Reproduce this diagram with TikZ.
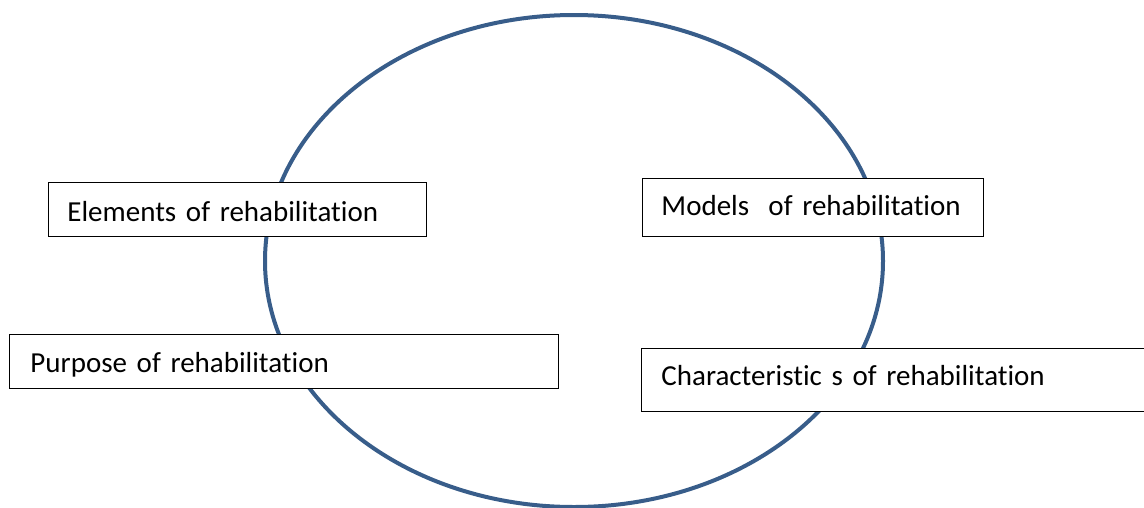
\documentclass[tikz,border=0pt]{standalone}
\usepackage{fontspec}
\setmainfont[Ligatures={NoCommon}]{Carlito}
\definecolor{ringblue}{RGB}{56,93,138}
\begin{document}
\begin{tikzpicture}[x=1pt,y=-1pt,
  ring/.style={draw=ringblue, line width=4pt},
  topicbox/.style={draw=black, line width=0.9pt, fill=white, anchor=north west,
    align=left, inner ysep=0pt, font=\fontsize{29}{34}\selectfont,
    text depth=0pt}]
  \useasboundingbox (0,0) rectangle (1144,507);
  \clip (0,0) rectangle (1144,507);
  % central ring
  \draw[ring] (574,261) ellipse [x radius=309, y radius=246];
  % topic boxes (text height sets the baseline below the box centre)
  \node[topicbox, minimum width=378, minimum height=54, inner xsep=19,
        text width=340, text height=25pt] (elements) at (48,182) {Elements of rehabilitation};
  \node[topicbox, minimum width=341, minimum height=58, inner xsep=19,
        text width=303, text height=16pt] (models) at (642,178) {Models\ \ of rehabilitation};
  \node[topicbox, minimum width=549, minimum height=54, inner xsep=21,
        text width=507, text height=22pt] (purpose) at (9,334) {Purpose of rehabilitation};
  \node[topicbox, minimum width=540, minimum height=63, inner xsep=20,
        text width=500, text height=12pt] (characteristics) at (641,348) {Characteristic s of rehabilitation};
\end{tikzpicture}
\end{document}
